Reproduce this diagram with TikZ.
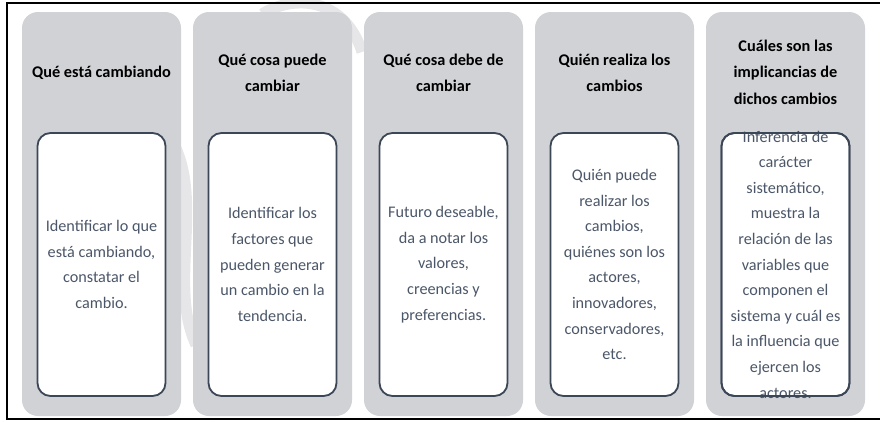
\documentclass[tikz,border=0pt]{standalone}
\usepackage{fontspec}
\setmainfont{Carlito}
\usetikzlibrary{positioning}
\definecolor{colgray}{RGB}{208,210,214}
\definecolor{boxline}{RGB}{59,70,86}
\definecolor{bodytext}{RGB}{75,87,105}
\definecolor{markgray}{RGB}{230,230,232}

\begin{document}
\begin{tikzpicture}[x=1pt,y=-1pt,node distance=12pt,
    column node/.style={rectangle,rounded corners=16pt,fill=colgray,minimum width=159pt,minimum height=404pt,inner sep=0pt,outer sep=0pt},
    box node/.style={rectangle,rounded corners=13pt,draw=boxline,line width=1.8pt,minimum width=128pt,minimum height=263pt,inner sep=0pt,outer sep=0pt},
    title node/.style={align=center,font=\bfseries\fontsize{16.3pt}{26.5pt}\selectfont},
    text node/.style={align=center,text=bodytext,font=\fontsize{16.2pt}{25.6pt}\selectfont}]
    \useasboundingbox (0,0) rectangle (880,421);
    % faint watermark behind the columns
    \draw[markgray,line width=11pt] (172,140) .. controls (205,200) and (168,285) .. (196,345);
    \draw[markgray,line width=11pt] (262,14) .. controls (295,-6) and (345,-2) .. (362,52);
    % frame
    \draw[line width=2.5pt] (880,3) -- (7,3) -- (7,419);
    \draw[line width=1.6pt] (6,419) -- (880,419);
    \node[column node] (c1) at (101.5,214) {};
    \node[column node] (c2) [right=of c1] {};
    \node[column node] (c3) [right=of c2] {};
    \node[column node] (c4) [right=of c3] {};
    \node[column node] (c5) [right=of c4] {};
    \node[title node] (h1) at ([yshift=-61pt]c1.north) {Qué está cambiando};
    \node[title node] (h2) at ([yshift=-61pt]c2.north) {Qué cosa puede\\cambiar};
    \node[title node] (h3) at ([yshift=-61pt]c3.north) {Qué cosa debe de\\cambiar};
    \node[title node] (h4) at ([yshift=-61pt]c4.north) {Quién realiza los\\cambios};
    \node[title node] (h5) at ([yshift=-60pt]c5.north) {Cuáles son las\\implicancias de\\dichos cambios};
    \node[box node,fill=white] (b1) [below=121pt of c1.north] {};
    \node[box node,fill=white] (b2) [below=121pt of c2.north] {};
    \node[box node,fill=white] (b3) [below=121pt of c3.north] {};
    \node[box node,fill=white] (b4) [below=121pt of c4.north] {};
    \node[box node,fill=white] (b5) [below=121pt of c5.north] {};
    \node[text node] (t1) at (b1) {Identificar lo que\\está cambiando,\\constatar el\\cambio.};
    \node[text node] (t2) at (b2) {Identificar los\\factores que\\pueden generar\\un cambio en la\\tendencia.};
    \node[text node] (t3) at (b3) {Futuro deseable,\\da a notar los\\valores,\\creencias y\\preferencias.};
    \node[text node] (t4) at (b4) {Quién puede\\realizar los\\cambios,\\quiénes son los\\actores,\\innovadores,\\conservadores,\\etc.};
    \node[text node] (t5) at (b5) {Inferencia de\\carácter\\sistemático,\\muestra la\\relación de las\\variables que\\componen el\\sistema y cuál es\\la influencia que\\ejercen los\\actores.};
    % border of the last box lies over its text
    \node[box node] (b5edge) at (b5) {};
\end{tikzpicture}
\end{document}
